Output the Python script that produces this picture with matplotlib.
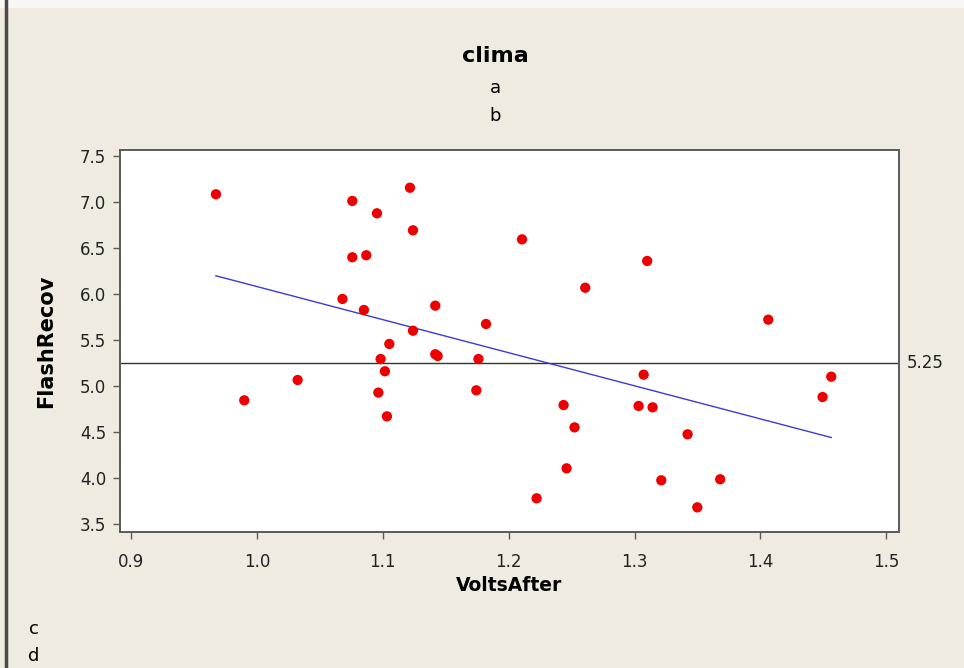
import matplotlib.pyplot as plt
import numpy as np
from matplotlib.lines import Line2D
from matplotlib.patches import Rectangle

# data
volts_after = [0.9675, 1.0758, 1.1216, 1.0954, 1.1240, 1.0758, 1.0869, 1.0680,
               1.0850, 1.1417, 1.1240, 1.1052, 1.1820, 1.1417, 1.1436, 1.0983,
               1.1760, 1.1017, 1.0324, 1.0965, 1.1743, 0.9900, 1.1033, 1.2106,
               1.3100, 1.2608, 1.4062, 1.3072, 1.4562, 1.4493, 1.2436, 1.3032,
               1.3143, 1.2523, 1.3421, 1.2460, 1.3212, 1.3680, 1.2222, 1.3498]
flash_recov = [7.084, 7.011, 7.155, 6.877, 6.692, 6.399, 6.421, 5.946,
               5.826, 5.873, 5.601, 5.457, 5.674, 5.345, 5.326, 5.293,
               5.293, 5.160, 5.065, 4.928, 4.953, 4.844, 4.670, 6.594,
               6.359, 6.068, 5.721, 5.123, 5.101, 4.880, 4.793, 4.783,
               4.768, 4.550, 4.475, 4.105, 3.975, 3.986, 3.779, 3.681]
ref_value = 5.25
x_ticks = [0.9, 1.0, 1.1, 1.2, 1.3, 1.4, 1.5]
y_ticks = [3.5, 4.0, 4.5, 5.0, 5.5, 6.0, 6.5, 7.0, 7.5]

bg = '#EFEBE1'
spine_col = '#5a5a5a'

fig = plt.figure(figsize=(9.64, 6.68), dpi=100, facecolor=bg)
ax = fig.add_axes([120/964, 136/668, 779/964, 382/668])
ax.set_facecolor('white')

x = np.array(volts_after)
y = np.array(flash_recov)

# fitted line over the data range
slope, icpt = np.polyfit(x, y, 1)
xs = np.array([x.min(), x.max()])
ax.plot(xs, icpt + slope*xs, color='#3a3ad8', lw=1.0, zorder=2)

ax.axhline(ref_value, color='#333333', lw=1.0, zorder=1)
ax.scatter(x, y, s=55, color='#ee0000', edgecolors='none', zorder=3)
ax.text(1.0 + 8/779, ref_value, f'{ref_value:.2f}', transform=ax.get_yaxis_transform(),
        va='center', ha='left', fontsize=12, color='#222222')

ax.set_xlim(0.8913, 1.5100)
ax.set_ylim(3.413, 7.565)
ax.set_xticks(x_ticks)
ax.set_xticklabels([f'{v:.1f}' for v in x_ticks])
ax.set_yticks(y_ticks)
ax.set_yticklabels([f'{v:.1f}' for v in y_ticks])
ax.tick_params(direction='out', length=5, width=1, color=spine_col,
               labelsize=12, labelcolor='#222222')
ax.tick_params(axis='x', pad=10)
ax.tick_params(axis='y', pad=5)
for s in ax.spines.values():
    s.set_color(spine_col)
    s.set_linewidth(1.4)

ax.set_xlabel('VoltsAfter', fontsize=13.5, fontweight='bold', labelpad=4)
ax.set_ylabel('FlashRecov', fontsize=15, fontweight='bold', labelpad=17)

fig.text(495/964, 1 - 56/668, 'clima', ha='center', va='center', fontsize=16, fontweight='bold')
fig.text(495/964, 1 - 88/668, 'a', ha='center', va='center', fontsize=13)
fig.text(495/964, 1 - 116/668, 'b', ha='center', va='center', fontsize=13)
fig.text(34/964, 1 - 629/668, 'c', ha='center', va='center', fontsize=13)
fig.text(34/964, 1 - 656/668, 'd', ha='center', va='center', fontsize=13)

# light strip along the top and dark frame edge on the left
fig.add_artist(Rectangle((0, 1 - 8/668), 1, 8/668, transform=fig.transFigure,
                         facecolor='#F8F7F3', edgecolor='none'))
fig.add_artist(Line2D([5.5/964, 5.5/964], [0, 1], transform=fig.transFigure,
                      color='#4a4a4a', lw=2.5))

fig.savefig('out.png', dpi=100, facecolor=bg)
